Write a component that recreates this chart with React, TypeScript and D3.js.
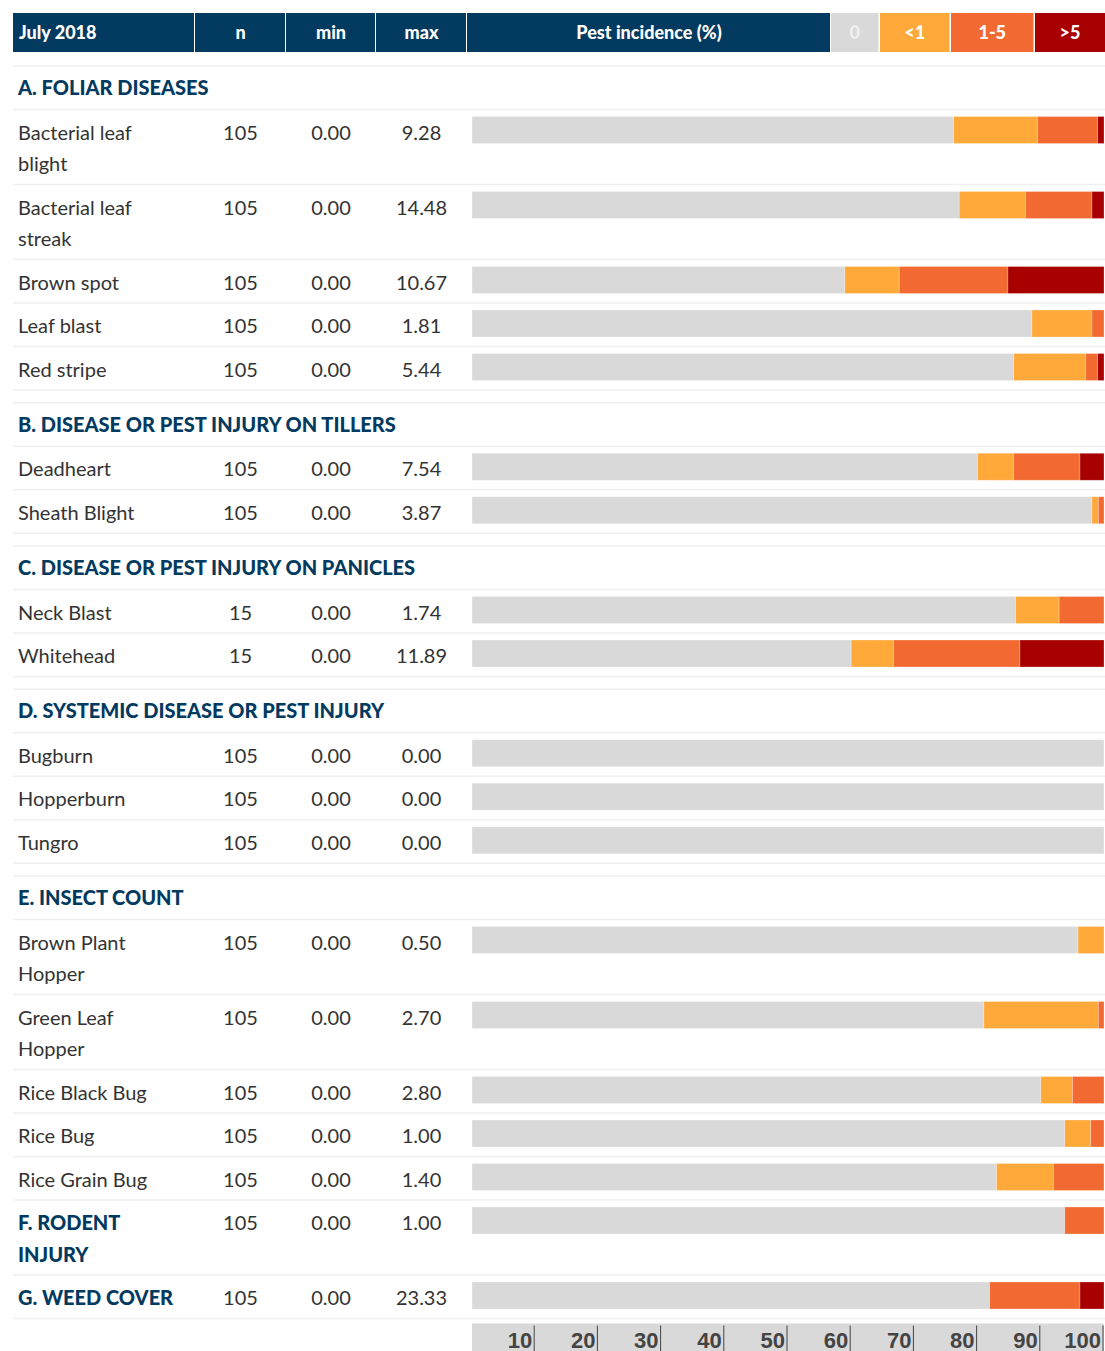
import * as d3 from 'd3';
import React from 'react';

// header / legend
const headerTitle = 'July 2018';
const columnTitles = ['n', 'min', 'max', 'Pest incidence (%)'];
const categoryKeys = ['zero', 'lt1', 'r1to5', 'gt5'];
const categoryLabels = ['0', '<1', '1-5', '>5'];
const categoryColors = ['#d9d9d9', '#fea93a', '#f26a32', '#a80000'];

const sectionTitles = [
  'A. FOLIAR DISEASES',
  'B. DISEASE OR PEST INJURY ON TILLERS',
  'C. DISEASE OR PEST INJURY ON PANICLES',
  'D. SYSTEMIC DISEASE OR PEST INJURY',
  'E. INSECT COUNT',
];

const pestNames = [
  'Bacterial leaf\nblight', 'Bacterial leaf\nstreak', 'Brown spot', 'Leaf blast', 'Red stripe',
  'Deadheart', 'Sheath Blight',
  'Neck Blast', 'Whitehead',
  'Bugburn', 'Hopperburn', 'Tungro',
  'Brown Plant\nHopper', 'Green Leaf\nHopper', 'Rice Black Bug', 'Rice Bug', 'Rice Grain Bug',
  'F. RODENT\nINJURY', 'G. WEED COVER',
];
const pestSection = [0, 0, 0, 0, 0, 1, 1, 2, 2, 3, 3, 3, 4, 4, 4, 4, 4, 4, 4];
const nValues = [105, 105, 105, 105, 105, 105, 105, 15, 15, 105, 105, 105, 105, 105, 105, 105, 105, 105, 105];
const minValues = [0, 0, 0, 0, 0, 0, 0, 0, 0, 0, 0, 0, 0, 0, 0, 0, 0, 0, 0];
const maxValues = [9.28, 14.48, 10.67, 1.81, 5.44, 7.54, 3.87, 1.74, 11.89, 0, 0, 0, 0.5, 2.7, 2.8, 1.0, 1.4, 1.0, 23.33];

// share of fields (%) in each incidence class
const shareZero = [76.2, 77.1, 59.0, 88.6, 85.7, 80.0, 98.1, 86.0, 60.0, 100, 100, 100, 95.9, 81.0, 90.0, 93.8, 83.0, 93.8, 81.9];
const shareLt1 = [13.3, 10.5, 8.6, 9.5, 11.4, 5.7, 1.0, 6.9, 6.7, 0, 0, 0, 4.1, 18.1, 5.0, 4.1, 9.0, 0, 0];
const share1to5 = [9.5, 10.5, 17.2, 1.9, 1.9, 10.5, 0.9, 7.1, 20.0, 0, 0, 0, 0, 0.9, 5.0, 2.1, 8.0, 6.2, 14.3];
const shareGt5 = [1.0, 1.9, 15.2, 0, 1.0, 3.8, 0, 0, 13.3, 0, 0, 0, 0, 0, 0, 0, 0, 0, 3.8];

const axisTicks = [10, 20, 30, 40, 50, 60, 70, 80, 90, 100];

const FONT = "'Source Sans Pro', Lato, 'Noto Sans', sans-serif";
const NAVY = '#033a5f';
const TEXT = '#333333';
const LINE = '#efefef';

const App = () => {
  const width = 1105;
  const height = 1351;
  const left = 13;
  const colEdges = [left, 195, 286, 376, 467, width];
  const legendEdges = [831, 880, 951, 1035, width];
  const headerTop = 13;
  const headerH = 39;

  const x = d3.scaleLinear().domain([0, 100]).range([472, 1104]);

  const table = pestNames.map((name, i) => ({
    name,
    zero: shareZero[i],
    lt1: shareLt1[i],
    r1to5: share1to5[i],
    gt5: shareGt5[i],
  }));
  const stacked = d3.stack<any>().keys(categoryKeys)(table);

  // vertical layout
  const singleH = 43.5;
  const lineStep = 31.5;
  const spacer = 12.75;
  type Block = { kind: 'heading' | 'row'; y: number; h: number; idx: number };
  const blocks: Block[] = [];
  const lines: number[] = [];
  let y = 66;
  let current = -1;
  pestNames.forEach((name, i) => {
    const s = pestSection[i];
    if (s !== current) {
      if (current >= 0) {
        lines.push(y);
        y += spacer;
      }
      lines.push(y);
      blocks.push({ kind: 'heading', y, h: singleH, idx: s });
      y += singleH;
      current = s;
    }
    const nLines = name.split('\n').length;
    const h = singleH + (nLines - 1) * lineStep;
    lines.push(y);
    blocks.push({ kind: 'row', y, h, idx: i });
    y += h;
  });
  lines.push(y);
  const axisTop = y + 5;

  const colCenter = (c: number) => (colEdges[c] + colEdges[c + 1]) / 2;

  return (
    <svg width={width} height={height} style={{ position: 'absolute', left: 0, top: 0, background: '#fff' }} fontFamily={FONT}>
      {/* header */}
      {colEdges.slice(0, -1).map((x0, c) => {
        const x1 = c === 4 ? legendEdges[0] - 1 : colEdges[c + 1] - 1;
        return <rect key={`h${c}`} x={x0} y={headerTop} width={x1 - x0} height={headerH} fill={NAVY} />;
      })}
      <text x={left + 6} y={headerTop + headerH / 2} dy="0.35em" fill="#fff" fontWeight={900} fontSize={18}>{headerTitle}</text>
      {columnTitles.map((t, c) => {
        const cx = c === 3 ? (colEdges[4] + legendEdges[0]) / 2 : colCenter(c + 1);
        return (
          <text key={t} x={cx} y={headerTop + headerH / 2} dy="0.35em" textAnchor="middle" fill="#fff" fontWeight={900} fontSize={18}>{t}</text>
        );
      })}
      {categoryLabels.map((lab, k) => {
        const x0 = legendEdges[k];
        const x1 = k === 3 ? width : legendEdges[k + 1] - 1.5;
        return (
          <g key={lab}>
            <rect x={x0} y={headerTop} width={x1 - x0} height={headerH} fill={categoryColors[k]} />
            <text x={(x0 + x1) / 2} y={headerTop + headerH / 2} dy="0.35em" textAnchor="middle" fontWeight={900} fontSize={18} fill={k === 0 ? '#efefef' : '#fff'}>{lab}</text>
          </g>
        );
      })}

      {/* row separators */}
      {lines.map((ly, i) => (
        <line key={`l${i}`} x1={left} x2={width} y1={ly} y2={ly} stroke={LINE} strokeWidth={1.5} />
      ))}

      {blocks.map((b, bi) => {
        if (b.kind === 'heading') {
          return (
            <text key={`b${bi}`} x={18} y={b.y + 22} dy="0.35em" fill={NAVY} fontWeight={900} fontSize={20}>{sectionTitles[b.idx]}</text>
          );
        }
        const i = b.idx;
        const labelLines = pestNames[i].split('\n');
        const isGroup = /^[A-Z]\. /.test(pestNames[i]);
        const ty = b.y + 23;
        return (
          <g key={`b${bi}`}>
            {labelLines.map((ln, li) => (
              <text key={li} x={18} y={ty + li * lineStep} dy="0.35em" fontSize={20}
                fill={isGroup ? NAVY : TEXT} fontWeight={isGroup ? 900 : 400}>{ln}</text>
            ))}
            <text x={colCenter(1)} y={ty} dy="0.35em" textAnchor="middle" fontSize={20} fill={TEXT}>{nValues[i]}</text>
            <text x={colCenter(2)} y={ty} dy="0.35em" textAnchor="middle" fontSize={20} fill={TEXT}>{minValues[i].toFixed(2)}</text>
            <text x={colCenter(3)} y={ty} dy="0.35em" textAnchor="middle" fontSize={20} fill={TEXT}>{maxValues[i].toFixed(2)}</text>
            {stacked.map((series, k) => {
              const seg = series[i];
              const w = x(seg[1]) - x(seg[0]);
              if (w <= 0) return null;
              return (
                <rect key={k} x={x(seg[0])} y={b.y + 7} width={w} height={27}
                  fill={categoryColors[k]} stroke="#ffffff" strokeOpacity={0.35} strokeWidth={0.75} />
              );
            })}
          </g>
        );
      })}

      {/* axis */}
      <rect x={x(0)} y={axisTop} width={x(100) - x(0)} height={height - axisTop} fill="#d9d9d9" />
      {axisTicks.map((t) => (
        <g key={t}>
          <line x1={x(t) - 1} x2={x(t) - 1} y1={axisTop + 2} y2={height} stroke="#444" strokeWidth={1} />
          <text x={x(t) - 3} y={axisTop + 24} textAnchor="end" fontSize={22} fontWeight={700} fill="#444"
            fontFamily="'Liberation Sans Narrow', 'Arial Narrow', 'Liberation Sans', sans-serif">{t}</text>
        </g>
      ))}
    </svg>
  );
};

export default App;
